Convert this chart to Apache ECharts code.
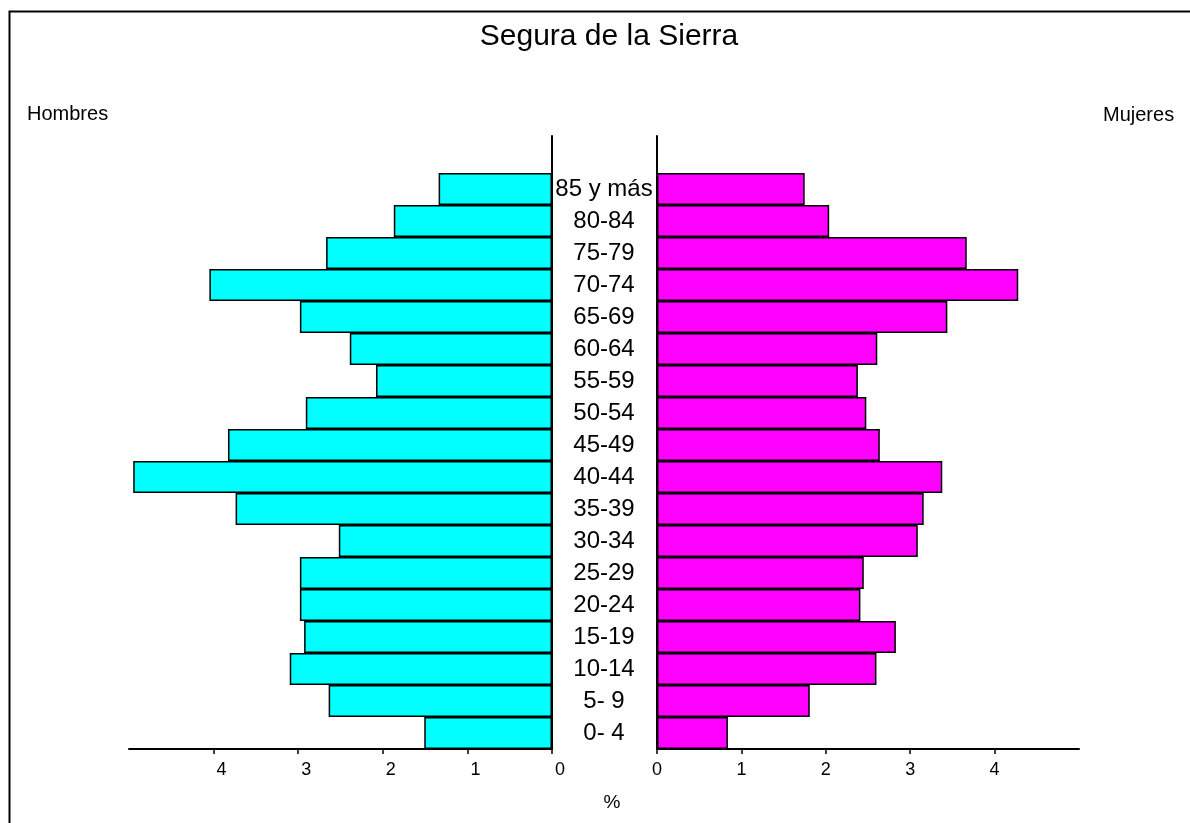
<!DOCTYPE html>
<html>
<head>
<meta charset="utf-8">
<script src="https://cdn.jsdelivr.net/npm/echarts@6/dist/echarts.min.js"></script>
<style>
html,body{margin:0;padding:0;background:#fff;}
#chart{width:1190px;height:823px;}
</style>
</head>
<body>
<div id="chart"></div>
<script>
// Age groups, bottom to top
const ageGroups = ['0- 4','5- 9','10-14','15-19','20-24','25-29','30-34','35-39','40-44','45-49','50-54','55-59','60-64','65-69','70-74','75-79','80-84','85 y más'];
// Percent of population, men (Hombres) and women (Mujeres)
const hombres = [1.51, 2.64, 3.10, 2.93, 2.98, 2.98, 2.52, 3.74, 4.95, 3.83, 2.91, 2.08, 2.39, 2.98, 4.05, 2.67, 1.87, 1.34];
const mujeres = [0.84, 1.81, 2.60, 2.83, 2.41, 2.45, 3.09, 3.16, 3.38, 2.64, 2.48, 2.38, 2.61, 3.44, 4.28, 3.67, 2.04, 1.75];
const tickValues = [0, 1, 2, 3, 4];
const titleText = 'Segura de la Sierra';
const leftLabel = 'Hombres';
const rightLabel = 'Mujeres';
const unitLabel = '%';

const FONT = 'Liberation Sans, Arial, sans-serif';
const chart = echarts.init(document.getElementById('chart'), null, {renderer: 'canvas'});

const xAxisCommon = {
  type: 'value', min: 0, max: 5, interval: 1,
  axisLine: {show: true, lineStyle: {color: '#000', width: 2}},
  axisTick: {show: true, length: 5, inside: false, customValues: tickValues, lineStyle: {color: '#000', width: 1.5}},
  axisLabel: {show: true, customValues: tickValues, color: '#000', fontSize: 18, fontFamily: FONT, margin: 12},
  splitLine: {show: false}
};

const option = {
  backgroundColor: '#fff',
  animation: false,
  textStyle: {fontFamily: FONT},
  title: [
    {text: titleText, left: 604, top: 17, textAlign: 'center',
     textStyle: {fontSize: 30, fontWeight: 'normal', color: '#000', fontFamily: FONT}},
    {text: leftLabel, left: 22, top: 99,
     textStyle: {fontSize: 20, fontWeight: 'normal', color: '#000', fontFamily: FONT}},
    {text: rightLabel, left: 1098, top: 100,
     textStyle: {fontSize: 20, fontWeight: 'normal', color: '#000', fontFamily: FONT}},
    {text: unitLabel, left: 607, top: 788, textAlign: 'center',
     textStyle: {fontSize: 19, fontWeight: 'normal', color: '#000', fontFamily: FONT}}
  ],
  graphic: [
    {type: 'rect', left: 7, top: 9, shape: {width: 1300, height: 900},
     style: {fill: 'none', stroke: '#000', lineWidth: 2}, silent: true, z: 100}
  ],
  grid: [
    {left: 129, width: 423, top: 173, height: 576},
    {left: 657, width: 422, top: 173, height: 576},
    {left: 552, width: 105, top: 136, height: 613}
  ],
  xAxis: [
    Object.assign({}, xAxisCommon, {gridIndex: 0, inverse: true,
      axisLabel: Object.assign({}, xAxisCommon.axisLabel, {padding: [0, 0, 0, 16]})}),
    Object.assign({}, xAxisCommon, {gridIndex: 1}),
    {type: 'value', gridIndex: 2, show: false}
  ],
  yAxis: [
    {type: 'category', gridIndex: 0, data: ageGroups, position: 'right',
     axisLine: {show: false}, axisTick: {show: false},
     axisLabel: {show: true, align: 'center', margin: 52, color: '#000', fontSize: 24, fontFamily: FONT}},
    {type: 'category', gridIndex: 1, data: ageGroups, position: 'left',
     axisLine: {show: false}, axisTick: {show: false}, axisLabel: {show: false}},
    {type: 'value', gridIndex: 2, position: 'left', min: 0, max: 1,
     axisLine: {show: true, lineStyle: {color: '#000', width: 2}},
     axisTick: {show: false}, axisLabel: {show: false}, splitLine: {show: false}},
    {type: 'value', gridIndex: 2, position: 'right', min: 0, max: 1,
     axisLine: {show: true, lineStyle: {color: '#000', width: 2}},
     axisTick: {show: false}, axisLabel: {show: false}, splitLine: {show: false}}
  ],
  series: [
    {type: 'bar', name: leftLabel, xAxisIndex: 0, yAxisIndex: 0, data: hombres,
     barCategoryGap: '0%', itemStyle: {color: '#00FFFF', borderColor: '#000', borderWidth: 1.5}},
    {type: 'bar', name: rightLabel, xAxisIndex: 1, yAxisIndex: 1, data: mujeres,
     barCategoryGap: '0%', itemStyle: {color: '#FF00FF', borderColor: '#000', borderWidth: 1.5}}
  ]
};
chart.setOption(option);
</script>
</body>
</html>
